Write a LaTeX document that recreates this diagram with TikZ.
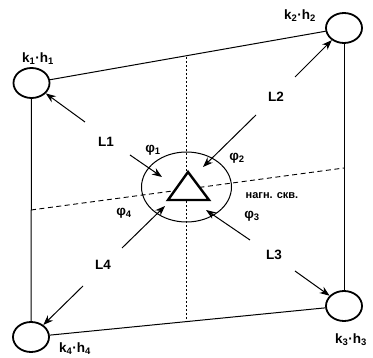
\documentclass[tikz,border=0pt]{standalone}
\usepackage{fontspec}
\setmainfont{Liberation Sans}
\usetikzlibrary{shapes.geometric,arrows.meta}
\begin{document}
\begin{tikzpicture}[x=1pt,y=-1pt,
  well/.style={draw,ellipse,line width=1.8pt,minimum width=36pt,minimum height=30pt,inner sep=0pt},
  frame/.style={line width=1pt},
  arr/.style={line width=1pt,-{Stealth[length=10pt,width=7.5pt]}},
  lbl/.style={font=\bfseries\fontsize{13.5}{15}\selectfont,inner sep=0pt},
  klbl/.style={font=\bfseries\fontsize{13.5}{15}\selectfont,inner sep=0pt},
  dotl/.style={line width=0.9pt,dash pattern=on 2pt off 2pt},
  dashl/.style={line width=0.9pt,dash pattern=on 5pt off 3.5pt}]
\useasboundingbox (0,0) rectangle (373,358);
\node[well] (w1) at (31.5,83) {};
\node[well] (w2) at (344,28) {};
\node[well] (w3) at (344,306) {};
\node[well] (w4) at (31,337) {};
\draw[frame] (w1) -- (w2);
\draw[frame] (w1) -- (w4);
\draw[frame] (w2) -- (w3);
\draw[frame] (w4) -- (w3);
% injection well circle
\node[draw,ellipse,line width=1pt,minimum width=90pt,minimum height=70pt,inner sep=0pt] (inj) at (186.5,187) {};
% axes
\coordinate (vt) at (186,57);
\coordinate (vb) at (186,322);
\coordinate (hl) at (31,210);
\coordinate (hr) at (344,168);
\draw[dotl] (vt) -- (vb);
\draw[dashl] (hl) -- (hr);
% triangle
\coordinate (ta) at (188,172);
\coordinate (tl) at (168,200);
\coordinate (tr) at (209,200);
\draw[line width=2.4pt,fill=white,line join=miter] (ta) -- (tl) -- (tr) -- cycle;
% arrows
\coordinate (a1) at (85,122);
\coordinate (b1s) at (130,155); \coordinate (b1e) at (162,177);
\coordinate (a2) at (295,77);
\coordinate (b2s) at (256,115); \coordinate (b2e) at (203,167);
\coordinate (a3) at (295,271);
\coordinate (b3s) at (250,240); \coordinate (b3e) at (206,210);
\coordinate (a4) at (83,286);
\coordinate (b4s) at (122,248); \coordinate (b4e) at (165,206);
\draw[arr] (a1) -- (w1);
\draw[arr] (b1s) -- (b1e);
\draw[arr] (a2) -- (w2);
\draw[arr] (b2s) -- (b2e);
\draw[arr] (a3) -- (w3);
\draw[arr] (b3s) -- (b3e);
\draw[arr] (a4) -- (w4);
\draw[arr] (b4s) -- (b4e);
% labels
\node[klbl] (k1) at (38,59) {k\textsubscript{1}·h\textsubscript{1}};
\node[klbl] (k2) at (300,16) {k\textsubscript{2}·h\textsubscript{2}};
\node[klbl] (k3) at (351,340) {k\textsubscript{3}·h\textsubscript{3}};
\node[klbl] (k4) at (75,349) {k\textsubscript{4}·h\textsubscript{4}};
\node[lbl] (l1) at (106,142) {L1};
\node[lbl] (l2) at (276,97) {L2};
\node[lbl] (l3) at (274,255) {L3};
\node[lbl] (l4) at (103,265) {L4};
\node[klbl] (p1) at (153,150) {φ\textsubscript{1}};
\node[klbl] (p2) at (237,158) {φ\textsubscript{2}};
\node[klbl] (p3) at (252,216) {φ\textsubscript{3}};
\node[klbl] (p4) at (124,213) {φ\textsubscript{4}};
\node[font=\bfseries\fontsize{11}{13}\selectfont,inner sep=0pt] (nk) at (272,196) {нагн. скв.};
\end{tikzpicture}
\end{document}
